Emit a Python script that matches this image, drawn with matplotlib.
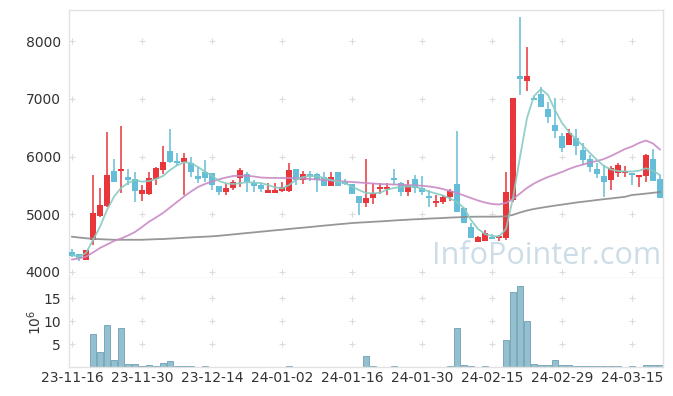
import matplotlib
matplotlib.use("Agg")
import matplotlib.pyplot as plt
import numpy as np

# trading-day index labels shown on the x axis
tick_idx = [0, 10, 20, 30, 40, 50, 60, 70, 80]
tick_labels = ["23-11-16", "23-11-30", "23-12-14", "24-01-02", "24-01-16",
               "24-01-30", "24-02-15", "24-02-29", "24-03-15"]

# daily OHLC (KRW)
opens = [4340, 4306, 4203, 4560, 4975, 5148, 5749, 5752, 5645, 5610,
         5351, 5356, 5610, 5766, 6095, 5922, 5900, 5893, 5662, 5726,
         5709, 5489, 5391, 5449, 5622, 5697, 5547, 5506, 5373, 5373,
         5408, 5408, 5778, 5593, 5697, 5697, 5640, 5495, 5726, 5564,
         5518, 5316, 5200, 5276, 5437, 5437, 5633, 5547, 5380, 5605,
         5449, 5311, 5200, 5211, 5293, 5524, 5103, 4774, 4525, 4543,
         4613, 4589, 4596, 5240, 7394, 7313, 7008, 7082, 6817, 6545,
         6355, 6199, 6315, 6113, 5951, 5784, 5662, 5593, 5709, 5709,
         5709, 5640, 5668, 5951, 5605]
highs = [4393, 4306, 4381, 5680, 5449, 6419, 5951, 6528, 5780, 5737,
         5506, 5737, 5823, 6187, 6476, 6061, 6055, 5997, 5823, 5939,
         5709, 5489, 5536, 5593, 5795, 5737, 5593, 5541, 5536, 5547,
         5564, 5882, 5778, 5749, 5743, 5720, 5726, 5726, 5737, 5610,
         5518, 5316, 5951, 5536, 5547, 5547, 5778, 5564, 5593, 5680,
         5662, 5420, 5333, 5333, 5432, 6447, 5103, 4843, 4630, 4727,
         4658, 4641, 5726, 7008, 8421, 7891, 7048, 7198, 6949, 7008,
         6402, 6471, 6471, 6228, 6026, 5893, 5853, 5835, 5882, 5835,
         5709, 5680, 6043, 6125, 5680]
lows = [4265, 4185, 4203, 4468, 4947, 5120, 5553, 5360, 5506, 5207,
        5235, 5333, 5506, 5692, 5882, 5835, 5333, 5650, 5536, 5564,
        5420, 5333, 5333, 5420, 5477, 5391, 5391, 5391, 5362, 5373,
        5391, 5391, 5506, 5524, 5576, 5391, 5495, 5495, 5495, 5501,
        5351, 4987, 5120, 5177, 5351, 5333, 5506, 5316, 5316, 5373,
        5333, 5120, 5120, 5177, 5229, 5044, 4843, 4584, 4525, 4543,
        4566, 4543, 4554, 5217, 7065, 7139, 6978, 6862, 6575, 6315,
        6083, 6199, 6026, 5853, 5737, 5622, 5304, 5420, 5640, 5640,
        5506, 5477, 5564, 5581, 5276]
closes = [4277, 4242, 4381, 5020, 5155, 5680, 5553, 5770, 5593, 5408,
          5420, 5628, 5796, 5900, 5900, 5882, 5969, 5737, 5605, 5622,
          5506, 5391, 5449, 5553, 5766, 5564, 5495, 5432, 5420, 5420,
          5477, 5766, 5593, 5697, 5662, 5593, 5495, 5640, 5495, 5518,
          5351, 5200, 5281, 5362, 5477, 5477, 5593, 5380, 5506, 5449,
          5391, 5287, 5218, 5293, 5403, 5044, 4843, 4584, 4601, 4670,
          4578, 4618, 5391, 7008, 7347, 7394, 6978, 6862, 6679, 6447,
          6142, 6412, 6182, 5939, 5824, 5697, 5564, 5796, 5853, 5755,
          5685, 5680, 6026, 5581, 5276]

# moving averages as drawn on the chart
ma5 = [4294, 4265, 4329, 4554, 4784, 5074, 5304, 5455, 5541, 5593,
       5564, 5576, 5610, 5662, 5766, 5847, 5900, 5888, 5818, 5737,
       5668, 5576, 5536, 5524, 5536, 5558, 5547, 5541, 5506, 5466,
       5449, 5506, 5593, 5645, 5662, 5657, 5628, 5593, 5564, 5541,
       5477, 5420, 5368, 5362, 5373, 5426, 5455, 5472, 5481, 5481,
       5437, 5394, 5359, 5325, 5273, 5212, 5108, 4900, 4745, 4658,
       4623, 4615, 4745, 5281, 5991, 6667, 7048, 7169, 7065, 6805,
       6580, 6424, 6303, 6182, 6061, 5939, 5835, 5775, 5749, 5740,
       5740, 5754, 5796, 5754, 5680]
ma20 = [4216, 4234, 4265, 4338, 4416, 4476, 4537, 4580, 4632, 4693,
        4779, 4871, 4944, 5022, 5117, 5212, 5307, 5394, 5472, 5524,
        5567, 5605, 5636, 5662, 5666, 5666, 5654, 5636, 5631, 5628,
        5628, 5628, 5623, 5619, 5610, 5602, 5593, 5584, 5576, 5567,
        5558, 5550, 5541, 5532, 5524, 5519, 5515, 5512, 5506, 5501,
        5494, 5481, 5463, 5437, 5403, 5368, 5325, 5281, 5238, 5203,
        5177, 5169, 5195, 5264, 5359, 5455, 5532, 5593, 5645, 5688,
        5732, 5784, 5827, 5861, 5896, 5922, 5957, 6009, 6069, 6130,
        6173, 6234, 6277, 6225, 6121]
ma_long = [4611, 4597, 4584, 4575, 4568, 4563, 4558, 4558, 4558, 4558,
           4558, 4563, 4568, 4571, 4578, 4585, 4592, 4599, 4606, 4611,
           4618, 4627, 4639, 4651, 4663, 4675, 4686, 4698, 4710, 4722,
           4732, 4745, 4757, 4767, 4779, 4791, 4803, 4814, 4826, 4836,
           4848, 4855, 4862, 4869, 4876, 4883, 4892, 4899, 4906, 4913,
           4918, 4925, 4930, 4935, 4942, 4947, 4952, 4956, 4958, 4958,
           4958, 4959, 4965, 4990, 5030, 5065, 5091, 5112, 5131, 5150,
           5167, 5184, 5202, 5217, 5231, 5247, 5261, 5274, 5288, 5302,
           5333, 5345, 5358, 5371, 5385]

# volume in millions of shares
volume = [0.05, 0.05, 0.05, 7.2, 3.3, 9.1, 1.5, 8.5, 0.65, 0.65,
          0.2, 0.4, 0.2, 0.87, 1.3, 0.2, 0.2, 0.2, 0.05, 0.2,
          0.05, 0.05, 0.05, 0.05, 0.05, 0.05, 0.05, 0.05, 0.05, 0.05,
          0.05, 0.2, 0.05, 0.05, 0.05, 0.05, 0.05, 0.05, 0.05, 0.05,
          0.05, 0.05, 2.4, 0.2, 0.05, 0.05, 0.2, 0.05, 0.05, 0.05,
          0.05, 0.05, 0.05, 0.05, 0.2, 8.5, 0.5, 0.2, 0.05, 0.2,
          0.05, 0.05, 5.9, 16.3, 17.7, 10.0, 0.65, 0.4, 0.4, 1.6,
          0.5, 0.5, 0.2, 0.2, 0.2, 0.2, 0.2, 0.2, 0.2, 0.05,
          0.2, 0.05, 0.45, 0.45, 0.45]

UP = "#e8363b"
DOWN = "#66bdd7"
SPINE = "#e2e2e2"

plt.rcParams["font.family"] = ["DejaVu Sans"]
fig = plt.figure(figsize=(6.73, 3.96), dpi=100)
ax = fig.add_axes([69 / 673, 1 - 278 / 396, 594 / 673, 268 / 396])
axv = fig.add_axes([69 / 673, 1 - 367 / 396, 594 / 673, 89 / 396], sharex=ax)

x = np.arange(len(closes))
o = np.array(opens)
c = np.array(closes)
h = np.array(highs)
l = np.array(lows)
up = c >= o
colors = np.where(up, UP, DOWN)

# grid crosses
for a, yt in ((ax, [4000, 5000, 6000, 7000, 8000]), (axv, [5, 10, 15])):
    gx, gy = np.meshgrid(tick_idx, yt)
    a.plot(gx.ravel(), gy.ravel(), "+", color="#dcdcdc", ms=5, mew=0.8, zorder=0)

# candles
ax.vlines(x, l, h, colors=colors, lw=1.1, zorder=2)
body_h = np.maximum(np.abs(c - o), 25)
ax.bar(x, body_h, bottom=np.minimum(o, c), width=0.72, color=colors, zorder=3)

# moving averages
ax.plot(x, ma_long, color="#8c8c8c", lw=1.3, alpha=0.9, zorder=4)
ax.plot(x, ma20, color="#c98ac6", lw=1.3, alpha=0.9, zorder=4)
ax.plot(x, ma5, color="#86cbc2", lw=1.3, alpha=0.9, zorder=4)

ax.text(84.2, 4140, "InfoPointer.com", ha="right", va="baseline",
        fontsize=22, color="#cddde7", family="Open Sans", zorder=1)

ax.set_xlim(-0.43, 84.43)
ax.set_ylim(3896, 8537)
ax.set_yticks([4000, 5000, 6000, 7000, 8000])
ax.tick_params(axis="x", length=0, labelbottom=False)
ax.tick_params(axis="y", length=0, pad=6, labelsize=10, labelcolor="#333333")

# volume
axv.bar(x, volume, width=0.95, color="#93bfcf", edgecolor="#6f9fb4", lw=0.6, zorder=2)
axv.set_ylim(0, 19.4)
axv.set_yticks([5, 10, 15])
axv.set_xticks(tick_idx)
axv.set_xticklabels(tick_labels)
axv.tick_params(axis="both", length=0, labelsize=10, labelcolor="#333333")
axv.tick_params(axis="y", pad=6)
axv.tick_params(axis="x", pad=3)
axv.text(-0.058, 0.5, "$10^6$", transform=axv.transAxes, rotation=90,
         ha="center", va="center", fontsize=10, color="#333333")

for a in (ax, axv):
    for s in a.spines.values():
        s.set_color(SPINE)
        s.set_linewidth(1)
axv.spines["top"].set_visible(False)

fig.savefig("out.png", dpi=100)
